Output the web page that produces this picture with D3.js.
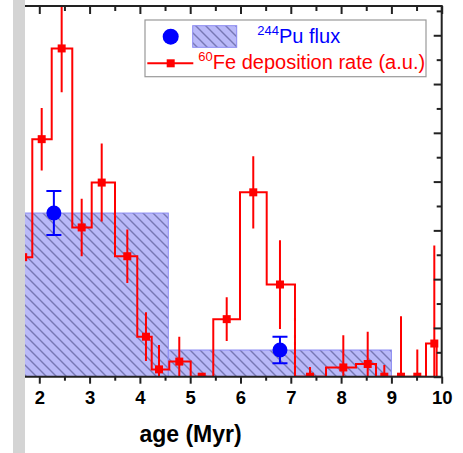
<!DOCTYPE html>
<html><head><meta charset="utf-8">
<script src="https://cdnjs.cloudflare.com/ajax/libs/d3/7.8.5/d3.min.js"></script>
<style>body{margin:0;background:#fff}svg{display:block}text{font-family:"Liberation Sans",Arial,sans-serif}</style>
</head><body><svg id="c" width="463" height="453"></svg>
<script>
// 60Fe deposition rate histogram (a.u.)
const feAge  = [1.68, 2.048, 2.445, 2.843, 3.241, 3.750, 4.121, 4.380, 4.783, 5.229, 5.726, 6.254, 6.785, 7.382, 8.044, 8.529, 8.859, 9.191, 9.515, 9.853];
const feLo   = [1.50, 1.861, 2.247, 2.656, 3.042, 3.505, 3.948, 4.235, 4.584, 5.010, 5.459, 5.990, 6.521, 7.083, 7.700, 8.296, 8.694, 9.030, 9.350, 9.688];
const feHi   = [1.861, 2.247, 2.656, 3.042, 3.505, 3.948, 4.235, 4.584, 5.010, 5.459, 5.990, 6.521, 7.083, 7.700, 8.296, 8.694, 9.030, 9.350, 9.688, 9.900];
const feRate = [2.45, 4.87, 6.73, 3.06, 3.98, 2.47, 0.82, 0.15, 0.31, 0.00, 1.18, 3.78, 1.89, 0.00, 0.19, 0.26, 0.00, 0.00, 0.00, 0.68];
const feErr  = [0.60, 0.64, 0.90, 0.59, 0.80, 0.55, 0.50, 0.50, 0.51, 0.06, 0.45, 0.74, 0.91, 0.20, 0.66, 0.66, 0.24, 1.24, 0.56, 2.01];
// 244Pu flux
const puLo   = [1.50, 4.565];
const puHi   = [4.565, 9.00];
const puBin  = [3.355, 0.547];
const puAge  = [2.29, 6.785];
const puFlux = [3.355, 0.547];
const puErr  = [0.45, 0.27];
const xTicks = [2, 3, 4, 5, 6, 7, 8, 9, 10];
const xLabel = "age (Myr)";
const legendPu = ["244", "Pu flux"];
const legendFe = ["60", "Fe deposition rate (a.u.)"];

const svg = d3.select("#c");
const L = 25, R = 441.7, T = 6, B = 376.7;
const x = d3.scaleLinear().domain([1.716, 10]).range([L, R]);
const y = d3.scaleLinear().domain([0, 7.6]).range([B, T]);

svg.append("rect").attr("x",0).attr("y",0).attr("width",463).attr("height",453).attr("fill","#fff");
svg.append("rect").attr("x",13).attr("y",0).attr("width",12).attr("height",453).attr("fill","#d4d4d4");

const defs = svg.append("defs");
defs.append("clipPath").attr("id","clip").append("rect").attr("x",L).attr("y",T).attr("width",R-L).attr("height",B-T);
const pat = defs.append("pattern").attr("id","hatch").attr("patternUnits","userSpaceOnUse").attr("width",10).attr("height",10);
pat.append("rect").attr("width",10).attr("height",10).attr("fill","#b9b9f8");
pat.append("path").attr("d","M-2,-2 L12,12 M-12,-2 L2,12 M8,-2 L22,12").attr("stroke","#7878b4").attr("stroke-width",1.4);

const g = svg.append("g").attr("clip-path","url(#clip)");

// Pu bins
puBin.forEach((v,i)=>{
  g.append("rect").attr("x",x(puLo[i])).attr("y",y(v)).attr("width",x(puHi[i])-x(puLo[i])).attr("height",y(0)-y(v))
   .attr("fill","url(#hatch)").attr("stroke","#8a8af2").attr("stroke-width",1);
});

// Fe step line
let p = d3.path();
p.moveTo(x(feLo[0]), y(feRate[0]));
feRate.forEach((v,i)=>{
  p.lineTo(x(feHi[i]), y(v));
  const nxt = i < feRate.length-1 ? feRate[i+1] : 0;
  p.lineTo(x(feHi[i]), y(nxt));
});
g.append("path").attr("d",p.toString()).attr("fill","none").attr("stroke","#ff0000").attr("stroke-width",2);
feRate.forEach((v,i)=>{
  g.append("line").attr("x1",x(feAge[i])).attr("x2",x(feAge[i])).attr("y1",y(v+feErr[i])).attr("y2",y(v-feErr[i]))
   .attr("stroke","#ff0000").attr("stroke-width",2);
  g.append("rect").attr("x",x(feAge[i])-4).attr("y",y(v)-4).attr("width",8).attr("height",8).attr("fill","#ff0000");
});

// Pu points
puFlux.forEach((v,i)=>{
  const cx = x(puAge[i]);
  g.append("line").attr("x1",cx).attr("x2",cx).attr("y1",y(v+puErr[i])).attr("y2",y(v-puErr[i])).attr("stroke","#0000ff").attr("stroke-width",2);
  [v+puErr[i], v-puErr[i]].forEach(e=>g.append("line").attr("x1",cx-7.5).attr("x2",cx+7.5).attr("y1",y(e)).attr("y2",y(e)).attr("stroke","#0000ff").attr("stroke-width",2));
  g.append("circle").attr("cx",cx).attr("cy",y(v)).attr("r",7.5).attr("fill","#0000ff");
});

// axes
const minorX = d3.range(2.5, 10, 1);
const bot = svg.append("g").attr("transform",`translate(0,${B})`)
  .call(d3.axisBottom(x).tickValues(xTicks).tickSize(7).tickSizeOuter(0).tickPadding(7).tickFormat(d3.format("d")));
bot.select(".domain").attr("stroke","#222").attr("stroke-width",2).attr("d",`M${L},0H${R}`);
bot.selectAll(".tick line").attr("stroke","#222").attr("stroke-width",2);
bot.selectAll(".tick text").attr("font-size","18.5px").attr("font-weight","bold").attr("fill","#000").attr("font-family","Liberation Sans, Arial, sans-serif");
const botMin = svg.append("g").attr("transform",`translate(0,${B})`)
  .call(d3.axisBottom(x).tickValues(minorX).tickSize(4).tickFormat(""));
botMin.select(".domain").remove();
botMin.selectAll(".tick line").attr("stroke","#222").attr("stroke-width",2);

const topAx = svg.append("g").attr("transform",`translate(0,${T})`)
  .call(d3.axisTop(x).tickValues(xTicks).tickSize(-8).tickSizeOuter(0).tickFormat(""));
topAx.select(".domain").attr("stroke","#222").attr("stroke-width",2).attr("d",`M${L},0H${R}`);
topAx.selectAll(".tick line").attr("stroke","#222").attr("stroke-width",2);
const topMin = svg.append("g").attr("transform",`translate(0,${T})`)
  .call(d3.axisTop(x).tickValues(minorX).tickSize(-5).tickFormat(""));
topMin.select(".domain").remove();
topMin.selectAll(".tick line").attr("stroke","#222").attr("stroke-width",2);

const rightAx = svg.append("g").attr("transform",`translate(${R},0)`)
  .call(d3.axisRight(y).tickValues(d3.range(0, 8, 1)).tickSize(-8).tickSizeOuter(0).tickFormat(""));
rightAx.select(".domain").attr("stroke","#222").attr("stroke-width",2).attr("d",`M0,${T-1}V${B+1}`);
rightAx.selectAll(".tick line").attr("stroke","#222").attr("stroke-width",2);
const rightMin = svg.append("g").attr("transform",`translate(${R},0)`)
  .call(d3.axisRight(y).tickValues(d3.range(0.5, 7.6, 1)).tickSize(-5).tickFormat(""));
rightMin.select(".domain").remove();
rightMin.selectAll(".tick line").attr("stroke","#222").attr("stroke-width",2);

svg.append("text").attr("x",190.5).attr("y",441.5).attr("text-anchor","middle").attr("font-size","23px").attr("font-weight","bold").attr("fill","#000").text(xLabel);

// legend
const lg = svg.append("g");
lg.append("rect").attr("x",145).attr("y",20).attr("width",281).attr("height",56.7).attr("fill","#fff").attr("stroke","#999").attr("stroke-width",1.2);
lg.append("circle").attr("cx",170.7).attr("cy",36.7).attr("r",8).attr("fill","#0000ff");
lg.append("rect").attr("x",192.7).attr("y",25.7).attr("width",44).attr("height",21.6).attr("fill","url(#hatch)").attr("stroke","#8a8af2").attr("stroke-width",1);
lg.append("line").attr("x1",147.3).attr("x2",193.3).attr("y1",63.3).attr("y2",63.3).attr("stroke","#ff0000").attr("stroke-width",2);
lg.append("rect").attr("x",166.7).attr("y",59.3).attr("width",8).attr("height",8).attr("fill","#ff0000");
const t1 = lg.append("text").attr("x",257.3).attr("y",42.7).attr("fill","#0000ff").attr("font-size","20px");
t1.append("tspan").attr("font-size","13px").attr("dy",-8).text(legendPu[0]);
t1.append("tspan").attr("dy",8).text(legendPu[1]);
const t2 = lg.append("text").attr("x",198.3).attr("y",69.3).attr("fill","#ff0000").attr("font-size","20px");
t2.append("tspan").attr("font-size","13px").attr("dy",-8).text(legendFe[0]);
t2.append("tspan").attr("dy",8).text(legendFe[1]);
</script></body></html>
